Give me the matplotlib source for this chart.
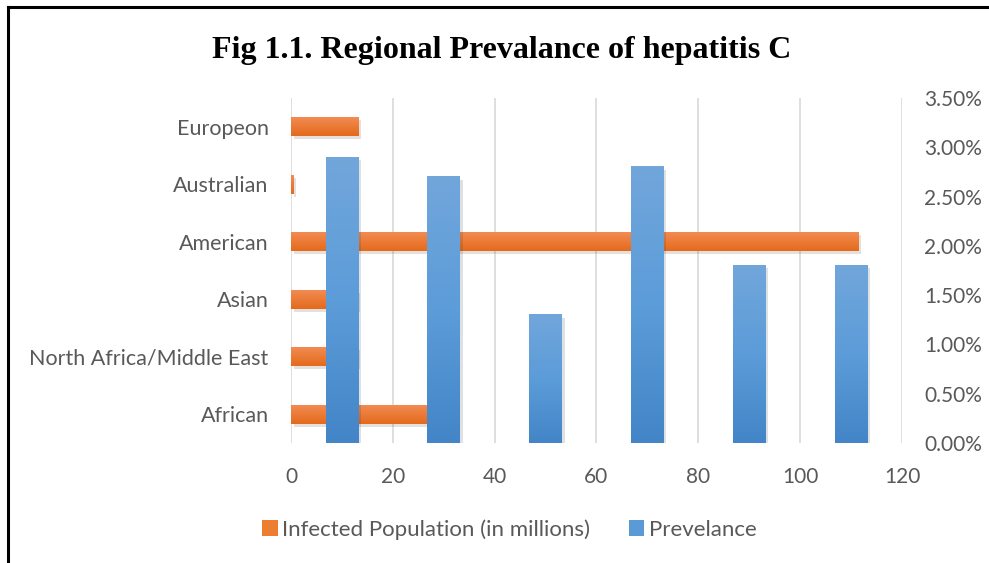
import numpy as np
import matplotlib.pyplot as plt
import matplotlib.patheffects as pe
from matplotlib.lines import Line2D
from matplotlib.patches import Patch
from matplotlib.colors import LinearSegmentedColormap

# data
regions = ['African', 'North Africa/Middle East', 'Asian', 'American', 'Australian', 'Europeon']
infected = [27, 13, 13, 111.5, 0.4, 13.3]          # millions
prevalence = [0.029, 0.027, 0.013, 0.028, 0.018, 0.018]
x_ticks = [0, 20, 40, 60, 80, 100, 120]
pct_ticks = [0, 0.005, 0.01, 0.015, 0.02, 0.025, 0.03, 0.035]

TXT = '#595959'
GRID = '#D9D9D9'
ORANGE = '#ED7D31'
BLUE = '#5B9BD5'
orange_grad = LinearSegmentedColormap.from_list('og', ['#E46A1C', '#F28B52'])
blue_grad = LinearSegmentedColormap.from_list('bg', ['#4385C7', '#5C9CD9', '#71A6DB'])

plt.rcParams['font.family'] = ['Lato', 'DejaVu Sans']


def shade_bars(axis, bars, cmap):
    # paint a soft gradient over each bar, keep a faint drop shadow underneath
    xl, yl = axis.get_xlim(), axis.get_ylim()
    grad = np.linspace(0, 1, 64).reshape(-1, 1)
    for b in bars:
        b.set_path_effects([pe.SimplePatchShadow(offset=(2, -2), alpha=0.14), pe.Normal()])
        x0, y0 = b.get_x(), b.get_y()
        x1, y1 = x0 + b.get_width(), y0 + b.get_height()
        if b.get_width() == 0 or b.get_height() == 0:
            continue
        axis.imshow(grad, cmap=cmap, origin='lower', aspect='auto',
                    extent=(x0, x1, y0, y1), zorder=b.get_zorder() + 0.1,
                    interpolation='bilinear')
    axis.set_xlim(xl)
    axis.set_ylim(yl)


fig = plt.figure(figsize=(9.89, 5.63), dpi=100)
rect = [0.2942, 0.2131, 0.6178, 0.6128]

# primary axes: horizontal bars of infected population
ax = fig.add_axes(rect)
ypos = np.arange(len(regions))
ax.set_xlim(0, 120)
ax.set_ylim(-0.5, len(regions) - 0.5)
hb = ax.barh(ypos, infected, height=0.33, color=ORANGE, zorder=3)
shade_bars(ax, hb, orange_grad)
ax.set_xticks(x_ticks)
ax.set_yticks(ypos)
ax.set_yticklabels(regions)
ax.grid(axis='x', color=GRID, linewidth=1.2, zorder=0)
ax.set_axisbelow(True)
for s in ax.spines.values():
    s.set_visible(False)
ax.tick_params(axis='x', length=0, labelsize=15, colors=TXT, pad=17)
ax.tick_params(axis='y', length=0, labelsize=15.5, colors=TXT, pad=16)

# secondary axes: prevalence columns on hidden category axis
ax2 = fig.add_axes(rect, facecolor='none')
xpos = np.arange(len(regions))
ax2.set_xlim(-0.5, len(regions) - 0.5)
ax2.set_ylim(0, 0.035)
vb = ax2.bar(xpos, prevalence, width=0.32, color=BLUE, zorder=3)
shade_bars(ax2, vb, blue_grad)
ax2.xaxis.set_visible(False)
ax2.yaxis.tick_right()
ax2.set_yticks(pct_ticks)
ax2.set_yticklabels([f'{v*100:.2f}%' for v in pct_ticks])
for s in ax2.spines.values():
    s.set_visible(False)
ax2.tick_params(length=0, labelsize=15, colors=TXT, pad=16)

fig.text(0.507, 0.911, 'Fig 1.1. Regional Prevalance of hepatitis C',
         family='Liberation Serif', weight='bold', size=23, ha='center', va='center',
         color='black')

handles = [Patch(facecolor=ORANGE, label='Infected Population (in millions)'),
           Patch(facecolor=BLUE, label='Prevelance')]
leg = fig.legend(handles=handles, loc='center', bbox_to_anchor=(0.515, 0.06), ncol=2,
                 frameon=False, fontsize=16, handlelength=0.7, handleheight=0.7,
                 handletextpad=0.2, columnspacing=1.75)
for t in leg.get_texts():
    t.set_color(TXT)

# frame lines along the top and left edge
fig.add_artist(Line2D([0.008, 1.0], [0.987, 0.987], color='black', linewidth=2.2))
fig.add_artist(Line2D([0.008, 0.008], [0.0, 0.987], color='black', linewidth=2.2))

fig.savefig('out.png', dpi=100)
